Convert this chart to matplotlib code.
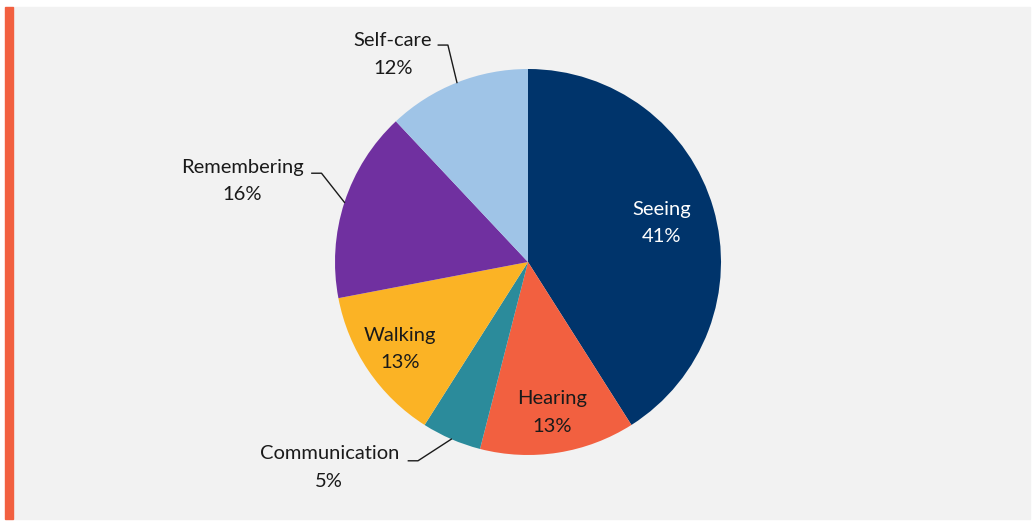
import numpy as np
import matplotlib
matplotlib.use("Agg")
import matplotlib.pyplot as plt
from matplotlib.patches import Rectangle

# Datos del gráfico
categorias = ['Seeing', 'Hearing', 'Communication', 'Walking', 'Remembering', 'Self-care']
valores = [41, 13, 5, 13, 16, 12]
colores = ['#00346b', '#f26040', '#2b8b9b', '#fbb325', '#7030a0', '#9fc4e7']
color_texto = ['white', '#1a1a1a', '#1a1a1a', '#1a1a1a', '#1a1a1a', '#1a1a1a']
dentro = [True, True, False, True, False, False]

plt.rcParams['font.family'] = ['Lato', 'DejaVu Sans']

W, H = 1034, 521
cx, cy, R = 528, 262, 193  # centro y radio en pixeles

fig = plt.figure(figsize=(W / 100, H / 100), dpi=100)
fig.patch.set_facecolor('white')

ax = fig.add_axes([0, 0, 1, 1])
ax.patch.set_alpha(0)
# fondo gris y barra naranja
ax.add_patch(Rectangle((13 / W, 2 / H), 1017 / W, 512 / H,
                       transform=fig.transFigure, color='#f2f2f2', zorder=-10))
ax.add_patch(Rectangle((5 / W, 2 / H), 8 / W, 512 / H,
                       transform=fig.transFigure, color='#f26040', zorder=-10))

wedges, _ = ax.pie(valores, colors=colores, startangle=90, counterclock=False,
                   radius=1, wedgeprops=dict(linewidth=0))
ax.set_aspect('auto')
ax.set_xlim(-cx / R, (W - cx) / R)
ax.set_ylim((cy - H) / R, cy / R)
ax.axis('off')

fs = 14.5
ls = 1.75
# etiquetas dentro del pastel
r_dentro = [0.72, 0.79, 0, 0.80, 0, 0]
# etiquetas fuera: (x texto, y texto, x codo, y codo)
fuera = {
    'Self-care': (-0.70, 1.075, -0.415, 1.124),
    'Remembering': (-1.48, 0.42, -1.07, 0.46),
    'Communication': (-1.03, -1.065, -0.57, -1.03),
}

for w, cat, v, tc, ins, rd in zip(wedges, categorias, valores, color_texto, dentro, r_dentro):
    ang = np.deg2rad((w.theta1 + w.theta2) / 2)
    etiqueta = f'{cat}\n{v}%'
    if ins:
        ax.text(rd * np.cos(ang), rd * np.sin(ang), etiqueta, ha='center', va='center',
                color=tc, fontsize=fs, linespacing=ls)
    else:
        tx, ty, ex, ey = fuera[cat]
        ax.text(tx, ty, etiqueta, ha='center', va='center', color='#1a1a1a',
                fontsize=fs, linespacing=ls)
        ax.plot([ex - 0.05, ex, np.cos(ang)], [ey, ey, np.sin(ang)],
                color='#1a1a1a', linewidth=1)

plt.savefig('out.png', dpi=100)
